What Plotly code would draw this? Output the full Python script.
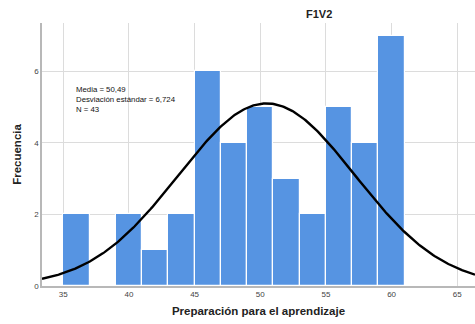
import numpy as np
import plotly.graph_objects as go

# Data
bin_starts = [35, 37, 39, 41, 43, 45, 47, 49, 51, 53, 55, 57, 59]
counts = [2, 0, 2, 1, 2, 6, 4, 5, 3, 2, 5, 4, 7]
bin_width = 2
mean_val = 50.49
sd_val = 6.724
n_val = 43
x_ticks = [35, 40, 45, 50, 55, 60, 65]
y_ticks = [0, 2, 4, 6]
stat_lines = ["Media = 50,49", "Desviación estándar = 6,724", "N = 43"]

x_range = [33.38, 66.35]
y_range = [0, 7.35]

centers = [b + bin_width / 2 for b in bin_starts]

xs = np.linspace(x_range[0], x_range[1], 300)
ys = n_val * bin_width / (sd_val * np.sqrt(2 * np.pi)) * np.exp(-0.5 * ((xs - mean_val) / sd_val) ** 2)

fig = go.Figure()
fig.add_trace(go.Bar(
    x=centers, y=counts, width=[bin_width] * len(centers),
    marker=dict(color="rgb(86,148,226)", line=dict(color="white", width=1.2)),
    hoverinfo="skip", showlegend=False,
))
fig.add_trace(go.Scatter(
    x=xs, y=ys, mode="lines", line=dict(color="black", width=2.4),
    hoverinfo="skip", showlegend=False,
))

L, R, T, B = 42, 0, 23, 38
pw = 475 - L - R
ph = 324 - T - B

annotations = [
    dict(text="<b>F1V2</b>", x=(319 - L) / pw, y=(324 - B - 14) / ph, xref="paper", yref="paper",
         xanchor="center", yanchor="middle", showarrow=False, font=dict(size=11, color="#222")),
    dict(text="<br>".join(stat_lines), x=(75 - L) / pw, y=(324 - B - 100) / ph,
         xref="paper", yref="paper", xanchor="left", yanchor="middle", align="left",
         showarrow=False, borderpad=0,
         font=dict(size=7.8, color="#111", family="Liberation Sans, Arial, sans-serif")),
]

fig.update_layout(
    width=475, height=324,
    margin=dict(l=L, r=R, t=T, b=B),
    plot_bgcolor="white", paper_bgcolor="white",
    bargap=0,
    font=dict(family="Liberation Sans, Arial, sans-serif", color="#222"),
    xaxis=dict(
        range=x_range, tickvals=x_ticks, ticktext=[str(v) for v in x_ticks],
        showgrid=True, gridcolor="#dcdcdc", gridwidth=1,
        showline=True, linecolor="#b8b8b8", linewidth=1.5,
        zeroline=False, ticks="", tickfont=dict(size=8, color="#444"),
        title=dict(text="<b>Preparación para el aprendizaje</b>", font=dict(size=11.5, color="#222"), standoff=9),
    ),
    yaxis=dict(
        range=y_range, tickvals=y_ticks, ticktext=[str(v) for v in y_ticks],
        showgrid=True, gridcolor="#dcdcdc", gridwidth=1,
        showline=True, linecolor="#b8b8b8", linewidth=1.5,
        zeroline=False, ticks="", tickfont=dict(size=8, color="#444"),
        title=dict(text="<b>Frecuencia</b>", font=dict(size=11.5, color="#222"), standoff=10),
    ),
    annotations=annotations,
)

fig.write_html("out.html")
